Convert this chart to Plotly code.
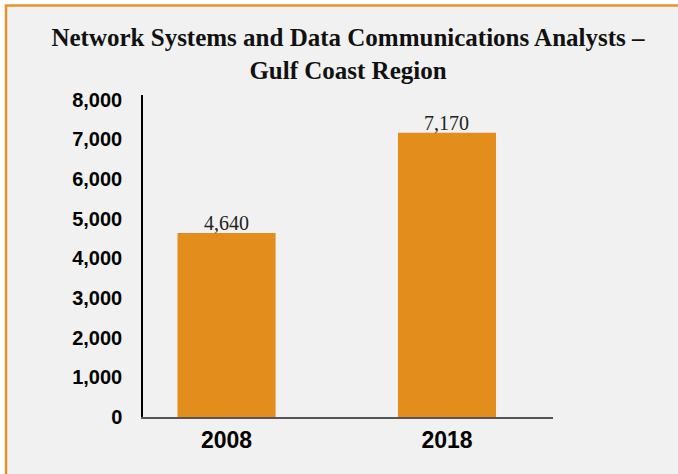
import plotly.graph_objects as go

categories = ["2008", "2018"]
values = [4640, 7170]
value_labels = ["4,640", "7,170"]
y_ticks = [0, 1000, 2000, 3000, 4000, 5000, 6000, 7000, 8000]
y_ticktext = ["0", "1,000", "2,000", "3,000", "4,000", "5,000", "6,000", "7,000", "8,000"]

W, H = 678, 474
L, R, T, B = 143, 125, 95, 57
pw, ph = W - L - R, H - T - B

xpos = list(range(len(categories)))

fig = go.Figure()
fig.add_trace(go.Bar(
    x=xpos, y=values, width=0.445,
    marker=dict(color="#E38D1C", line=dict(width=0)),
    hoverinfo="skip",
))

for xv, yv, lab in zip(xpos, values, value_labels):
    fig.add_annotation(x=xv, y=yv, text=lab, showarrow=False,
                       xanchor="center", yanchor="bottom", yshift=-3,
                       font=dict(family="Liberation Serif", size=20, color="#222222"))

def px2paper_x(px):
    return (px - L) / pw

def px2paper_y(py):
    return (H - B - py) / ph

fig.add_shape(type="rect", xref="paper", yref="paper",
              x0=px2paper_x(6), x1=px2paper_x(W + 20),
              y0=px2paper_y(H + 20), y1=px2paper_y(5.5),
              fillcolor="#F1F1F1", line=dict(color="#E8912A", width=2.5),
              layer="below")

fig.update_layout(
    width=W, height=H,
    margin=dict(l=L, r=R, t=T, b=B, pad=0),
    paper_bgcolor="white",
    plot_bgcolor="rgba(0,0,0,0)",
    showlegend=False,
    title=dict(
        text="<b>Network Systems and Data Communications Analysts –<br>Gulf Coast Region</b>",
        x=0.5, xref="paper", xanchor="center",
        y=1 - 46 / H, yanchor="middle",
        font=dict(family="Liberation Serif", size=25, color="#111111"),
    ),
    xaxis=dict(
        range=[-0.379, 1.481],
        tickvals=xpos, ticktext=["<b>%s</b>" % c for c in categories],
        tickfont=dict(family="Liberation Sans", size=23, color="#000000"),
        showgrid=False, zeroline=False,
        showline=True, linecolor="#555555", linewidth=2,
        ticks="", ticklabelstandoff=1,
    ),
    yaxis=dict(
        range=[0, 8120],
        tickvals=y_ticks, ticktext=["<b>%s</b>" % t for t in y_ticktext],
        tickfont=dict(family="Liberation Sans", size=20, color="#000000"),
        showgrid=False, zeroline=False,
        showline=True, linecolor="#000000", linewidth=1.5,
        ticks="", ticklabelstandoff=15,
    ),
)

fig.write_html("out.html",
               config={"displayModeBar": False},
               post_script="document.body.style.margin='0';document.body.style.padding='0';")
